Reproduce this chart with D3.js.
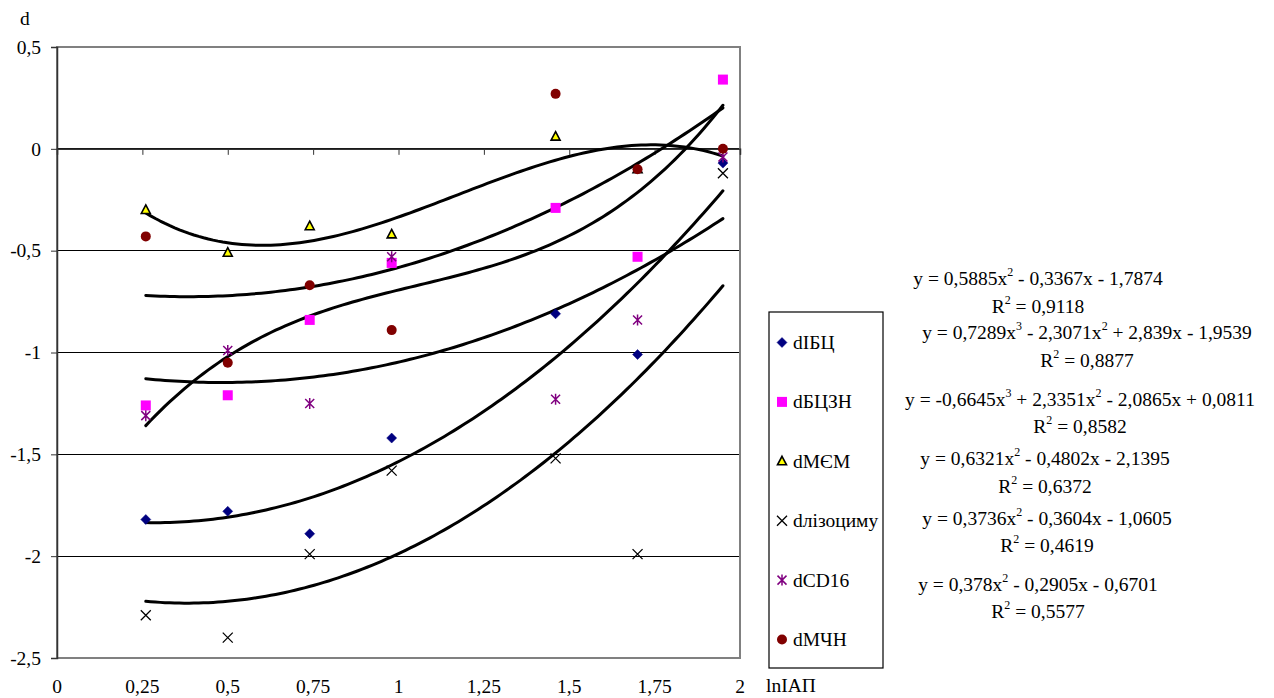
<!DOCTYPE html>
<html>
<head>
<meta charset="utf-8">
<script src="https://cdn.jsdelivr.net/npm/d3@7/dist/d3.min.js"></script>
<style>
  html, body { margin: 0; padding: 0; background: #fff; }
  svg { display: block; }
  text { font-family: "Liberation Serif", "Times New Roman", serif; fill: #000; }
</style>
</head>
<body>
<svg id="chart" width="1274" height="698"></svg>
<script>
// lnІАП values shared by every series
const xValues = [0.26, 0.5, 0.74, 0.98, 1.46, 1.70, 1.95];

// series values (null = no point)
const dIBC   = [-1.82, -1.78, -1.89, -1.42, -0.81, -1.01, -0.07];
const dBCZN  = [-1.26, -1.21, -0.84, -0.56, -0.29, -0.53, 0.34];
const dMEM   = [-0.30, -0.51, -0.38, -0.42, 0.06, -0.10, null];
const dLyso  = [-2.29, -2.40, -1.99, -1.58, -1.52, -1.99, -0.12];
const dCD16  = [-1.31, -0.99, -1.25, -0.53, -1.23, -0.84, -0.04];
const dMChN  = [-0.43, -1.05, -0.67, -0.89, 0.27, -0.10, 0.00];

const seriesNames = ["dІБЦ", "dБЦЗН", "dМЄМ", "dлізоциму", "dCD16", "dМЧН"];

// trendline coefficients, highest power first, and their R²
const trendIBC  = [0.5885, -0.3367, -1.7874];
const trendBCZN = [0.7289, -2.3071, 2.839, -1.9539];
const trendMEM  = [-0.6645, 2.3351, -2.0865, 0.0811];
const trendLyso = [0.6321, -0.4802, -2.1395];
const trendCD16 = [0.3736, -0.3604, -1.0605];
const trendMChN = [0.378, -0.2905, -0.6701];
const rSquared  = [0.9118, 0.8877, 0.8582, 0.6372, 0.4619, 0.5577];

// axis ticks
const yTicks = [0.5, 0, -0.5, -1, -1.5, -2, -2.5];
const xTicks = [0, 0.25, 0.5, 0.75, 1, 1.25, 1.5, 1.75, 2];

const series = [
  { name: seriesNames[0], values: dIBC,  trend: trendIBC,  r2: rSquared[0], marker: "diamond",  color: "#000080" },
  { name: seriesNames[1], values: dBCZN, trend: trendBCZN, r2: rSquared[1], marker: "square",   color: "#FF00FF" },
  { name: seriesNames[2], values: dMEM,  trend: trendMEM,  r2: rSquared[2], marker: "triangle", color: "#FFFF00" },
  { name: seriesNames[3], values: dLyso, trend: trendLyso, r2: rSquared[3], marker: "x",        color: "#000000" },
  { name: seriesNames[4], values: dCD16, trend: trendCD16, r2: rSquared[4], marker: "star",     color: "#800080" },
  { name: seriesNames[5], values: dMChN, trend: trendMChN, r2: rSquared[5], marker: "circle",   color: "#800000" }
];

const FS = "19.5px";
const SUP = "12px";
const RAISE = 9;

const svg = d3.select("#chart");
const plot = { left: 57, right: 740, top: 47, bottom: 658 };

const x = d3.scaleLinear().domain([0, 2]).range([plot.left, plot.right]);
const y = d3.scaleLinear().domain([-2.5, 0.5]).range([plot.bottom, plot.top]);

const loc = d3.formatLocale({ decimal: ",", thousands: " ", grouping: [3], currency: ["", ""], minus: "-" });
const fmt = loc.format("~g");

// horizontal gridlines
svg.append("g")
  .selectAll("line")
  .data(yTicks.filter(v => v !== 0.5 && v !== -2.5))
  .join("line")
  .attr("x1", plot.left).attr("x2", plot.right)
  .attr("y1", d => y(d)).attr("y2", d => y(d))
  .attr("stroke", "#000").attr("stroke-width", 1).attr("shape-rendering", "crispEdges");

// plot area border
svg.append("rect")
  .attr("x", plot.left).attr("y", plot.top)
  .attr("width", plot.right - plot.left).attr("height", plot.bottom - plot.top)
  .attr("fill", "none").attr("stroke", "#808080").attr("stroke-width", 1.5)
  .attr("shape-rendering", "crispEdges");

// y axis
const yAxis = svg.append("g")
  .attr("transform", `translate(${plot.left},0)`)
  .call(d3.axisLeft(y).tickValues(yTicks).tickSize(6).tickPadding(10).tickFormat(fmt));
yAxis.select(".domain").attr("stroke", "#333").attr("stroke-width", 1.5);
yAxis.selectAll(".tick line").attr("stroke", "#333");
yAxis.selectAll(".tick text")
  .style("font-family", "'Liberation Serif', serif").style("font-size", FS).attr("fill", "#000");

// x axis line at y = 0 with ticks pointing down
const xAxis = svg.append("g")
  .attr("transform", `translate(0,${y(0)})`)
  .call(d3.axisBottom(x).tickValues(xTicks).tickSize(6).tickFormat(""));
xAxis.select(".domain").attr("stroke", "#333").attr("stroke-width", 1.5);
xAxis.selectAll(".tick line").attr("stroke", "#333");

// x tick labels at the bottom
svg.append("g")
  .selectAll("text")
  .data(xTicks)
  .join("text")
  .attr("x", d => x(d)).attr("y", 693)
  .attr("text-anchor", "middle")
  .style("font-size", FS)
  .text(d => fmt(d));

// axis titles
svg.append("text").attr("x", 20).attr("y", 25).style("font-size", FS).text("d");
svg.append("text").attr("x", 766).attr("y", 692).style("font-size", FS).text("lnІАП");

// trendlines
const poly = (c, t) => c.reduce((acc, k) => acc * t + k, 0);
const xMin = d3.min(xValues), xMax = d3.max(xValues);
const samples = d3.range(0, 121).map(i => xMin + (xMax - xMin) * i / 120);
const line = d3.line().x(d => x(d[0])).y(d => y(d[1])).curve(d3.curveLinear);

svg.append("g")
  .selectAll("path")
  .data(series)
  .join("path")
  .attr("d", s => line(samples.map(t => [t, poly(s.trend, t)])))
  .attr("fill", "none").attr("stroke", "#000").attr("stroke-width", 3)
  .attr("stroke-linecap", "round").attr("stroke-linejoin", "round");

// marker drawing
function drawMarker(g, type, color, cx, cy) {
  const s = 5;
  if (type === "diamond") {
    g.append("path").attr("d", `M${cx},${cy - s}L${cx + s},${cy}L${cx},${cy + s}L${cx - s},${cy}Z`)
      .attr("fill", color).attr("stroke", color).attr("stroke-width", 0.5);
  } else if (type === "square") {
    g.append("rect").attr("x", cx - 5).attr("y", cy - 5).attr("width", 10).attr("height", 10)
      .attr("fill", color);
  } else if (type === "triangle") {
    g.append("path").attr("d", `M${cx},${cy - 5}L${cx + 4.5},${cy + 3.5}L${cx - 4.5},${cy + 3.5}Z`)
      .attr("fill", color).attr("stroke", "#000").attr("stroke-width", 1.6).attr("stroke-linejoin", "miter");
  } else if (type === "x") {
    g.append("path").attr("d", `M${cx - 5},${cy - 5}L${cx + 5},${cy + 5}M${cx + 5},${cy - 5}L${cx - 5},${cy + 5}`)
      .attr("stroke", color).attr("stroke-width", 1.3).attr("fill", "none");
  } else if (type === "star") {
    g.append("path").attr("d", `M${cx - 4.5},${cy - 4.5}L${cx + 4.5},${cy + 4.5}M${cx + 4.5},${cy - 4.5}L${cx - 4.5},${cy + 4.5}M${cx},${cy - 5.5}L${cx},${cy + 5.5}`)
      .attr("stroke", color).attr("stroke-width", 1.5).attr("fill", "none");
  } else if (type === "circle") {
    g.append("circle").attr("cx", cx).attr("cy", cy).attr("r", 5).attr("fill", color);
  }
}

// data points
const pts = svg.append("g");
series.forEach(s => {
  const g = pts.append("g");
  s.values.forEach((v, i) => {
    if (v === null) return;
    drawMarker(g, s.marker, s.color, x(xValues[i]), y(v));
  });
});

// legend
const legend = svg.append("g");
legend.append("rect").attr("x", 769).attr("y", 312).attr("width", 114).attr("height", 356)
  .attr("fill", "#fff").attr("stroke", "#000").attr("stroke-width", 1.2);
series.forEach((s, i) => {
  const cy = 342.5 + i * 59.4;
  drawMarker(legend, s.marker, s.color, 782, cy);
  legend.append("text").attr("x", 793).attr("y", cy + 6.5).style("font-size", FS).text(s.name);
});

// trendline equation labels
const num = v => String(Math.abs(v)).replace(".", ",");
const eqPos = [
  { cx: 1038, y1: 285, y2: 313 },
  { cx: 1087, y1: 339, y2: 367 },
  { cx: 1080, y1: 406, y2: 433 },
  { cx: 1045, y1: 465, y2: 493 },
  { cx: 1047, y1: 525, y2: 552 },
  { cx: 1038, y1: 591, y2: 618 }
];
const eqs = svg.append("g");
series.forEach((s, i) => {
  const p = eqPos[i];
  const t = eqs.append("text").attr("x", p.cx).attr("y", p.y1).attr("text-anchor", "middle").style("font-size", FS);
  t.append("tspan").text("y = ");
  const n = s.trend.length - 1;
  let pending = 0;
  s.trend.forEach((c, k) => {
    const pow = n - k;
    let lead;
    if (k === 0) lead = c < 0 ? "-" : "";
    else lead = c < 0 ? " - " : " + ";
    let body = lead + num(c);
    if (pow >= 1) body += "x";
    const seg = t.append("tspan").text(body);
    if (pending) { seg.attr("dy", pending); pending = 0; }
    if (pow >= 2) {
      t.append("tspan").attr("dy", -RAISE).style("font-size", SUP).text(String(pow));
      pending = RAISE;
    }
  });
  const r = eqs.append("text").attr("x", p.cx).attr("y", p.y2).attr("text-anchor", "middle").style("font-size", FS);
  r.append("tspan").text("R");
  r.append("tspan").attr("dy", -RAISE).style("font-size", SUP).text("2");
  r.append("tspan").attr("dy", RAISE).text(" = " + num(s.r2));
});
</script>
</body>
</html>
